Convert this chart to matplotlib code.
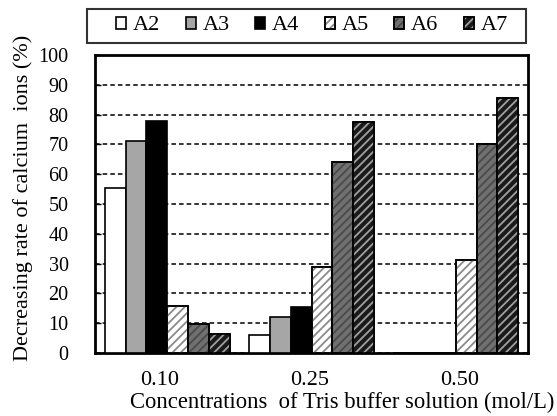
import numpy as np
from matplotlib import pyplot as plt
from matplotlib.patches import Rectangle

concentrations = ['0.10', '0.25', '0.50']
series_names = ['A2', 'A3', 'A4', 'A5', 'A6', 'A7']
a2 = [55.3, 6.0, 0.0]
a3 = [71.1, 12.2, 0.0]
a4 = [78.0, 15.5, 0.0]
a5 = [15.9, 28.7, 31.2]
a6 = [9.7, 64.2, 70.0]
a7 = [6.3, 77.4, 85.7]
yticks = [0, 10, 20, 30, 40, 50, 60, 70, 80, 90, 100]

plt.rcParams['font.family'] = ['Liberation Serif', 'DejaVu Serif']
plt.rcParams['font.size'] = 16
plt.rcParams['hatch.linewidth'] = 1.3

# (face colour, hatch, hatch colour)
styles = [
    ('white', None, None),
    ('#a6a6a6', None, None),
    ('black', None, None),
    ('white', '////', '#8a8a8a'),
    ('#707070', '////', '#4a4a4a'),
    ('#1a1a1a', '////', '#a0a0a0'),
]

fig = plt.figure(figsize=(5.57, 4.16), dpi=100)
ax = fig.add_axes([95 / 557, 1 - 353 / 416, 433 / 557, 298 / 416])

x = np.arange(len(concentrations))
width = 0.144
handles = []
for i, (name, values) in enumerate(zip(series_names, [a2, a3, a4, a5, a6, a7])):
    face, hatch, hcol = styles[i]
    pos = x + (i - 2.5) * width
    base = ax.bar(pos, values, width, color=face, edgecolor='black', linewidth=1.2, zorder=3)
    if hatch:
        # hatch drawn on top in its own colour, then the black outline again
        over = ax.bar(pos, values, width, color='none', edgecolor=hcol, hatch=hatch,
                      linewidth=0, zorder=3.5)
        edge = ax.bar(pos, values, width, color='none', edgecolor='black', linewidth=1.2, zorder=4)
        handles.append((base[0], over[0], edge[0]))
    else:
        handles.append(base[0])

ax.set_xlim(-0.5, 2.5)
ax.set_ylim(0, 100)
ax.set_yticks(yticks)
ax.set_xticks(x + np.array([-0.05, -0.015, 0.025]))
ax.set_xticklabels(concentrations, fontsize=16)
ax.tick_params(axis='x', length=0, pad=13)
ax.tick_params(axis='y', direction='in', length=4, width=1, pad=19, labelsize=14.5)
ax.yaxis.grid(True, linestyle=(0, (3, 2)), color='black', linewidth=1.1, zorder=0)
ax.set_axisbelow(True)
for s in ax.spines.values():
    s.set_linewidth(2)

ax.set_ylabel('Decreasing rate of calcium  ions (%)', fontsize=16)
ax.yaxis.set_label_coords(-0.143, 0.52)
ax.set_xlabel('Concentrations  of Tris buffer solution (mol/L)', fontsize=16.3)
ax.xaxis.set_label_coords(0.572, -0.13)

leg = fig.legend(handles, series_names, ncol=6, loc='center',
                 bbox_to_anchor=(312 / 557, 1 - 26 / 416), frameon=False,
                 handlelength=0.45, handleheight=0.45, handletextpad=0.3,
                 columnspacing=1.15, borderaxespad=0, borderpad=0, fontsize=16)
fig.add_artist(Rectangle((87 / 557, 1 - 43 / 416), 439 / 557, 34 / 416,
                         transform=fig.transFigure, facecolor='none',
                         edgecolor='#333333', linewidth=1.5))

fig.savefig('out.png', dpi=100)
